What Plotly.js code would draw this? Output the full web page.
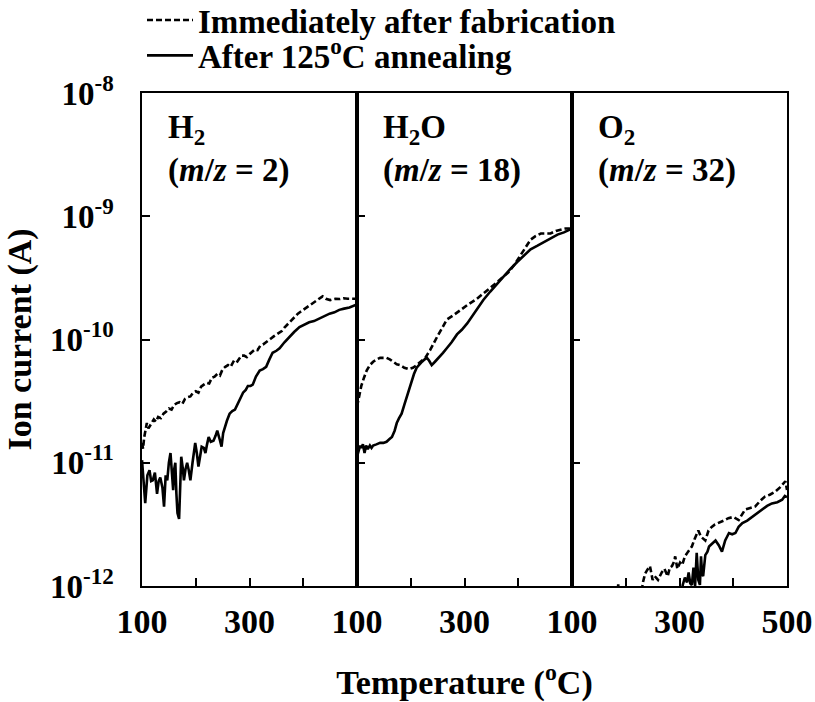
<!DOCTYPE html>
<html>
<head>
<meta charset="utf-8">
<script src="https://cdn.plot.ly/plotly-3.0.1.min.js"></script>
<style>
  html, body { margin: 0; padding: 0; background: #fff; }
  #chart { width: 815px; height: 702px; }
</style>
</head>
<body>
<div id="chart"></div>
<script>
// ---------- Data (temperature in °C, ion current in A) ----------
const seriesNames = ['Immediately after fabrication', 'After 125<sup>o</sup>C annealing'];
const panelLabels = [
  'H<sub>2</sub><br>(<i>m</i>/<i>z</i> = 2)',
  'H<sub>2</sub>O<br>(<i>m</i>/<i>z</i> = 18)',
  'O<sub>2</sub><br>(<i>m</i>/<i>z</i> = 32)'
];
const xLabelValsInner = [100, 300];
const xLabelValsLast = [100, 300, 500];
const xMinorVals = [200, 400];
const yTickVals = [1e-12, 1e-11, 1e-10, 1e-9, 1e-8];
const yTickText = ['10<sup>-12</sup>', '10<sup>-11</sup>', '10<sup>-10</sup>', '10<sup>-9</sup>', '10<sup>-8</sup>'];

// H2 (m/z = 2)
const h2FabT = [100,102,104,106,109,112,115,118,122,126,130,135,140,145,150,155,160,165,170,175,180,185,190,195,200,205,210,215,220,225,230,235,240,245,250,255,260,265,270,275,280,285,290,295,300,305,310,315,320,325,330,335,340,345,350,355,360,365,370,375,380,385,390,395,400,405,410,415,420,425,430,436,442,446,450,455,460,468,475,483,490,500];
const h2FabI = [1.45e-11,1.3e-11,1.6e-11,1.75e-11,2.1e-11,1.9e-11,2.0e-11,2.15e-11,2.25e-11,2.15e-11,2.35e-11,2.3e-11,2.5e-11,2.6e-11,2.75e-11,2.7e-11,2.95e-11,3.05e-11,3.1e-11,3.0e-11,3.3e-11,3.4e-11,3.45e-11,3.7e-11,3.8e-11,3.7e-11,4.15e-11,4.3e-11,4.45e-11,4.4e-11,4.9e-11,5.0e-11,5.25e-11,5.1e-11,5.75e-11,6.0e-11,6.2e-11,6.0e-11,6.6e-11,6.4e-11,6.9e-11,7.4e-11,7.4e-11,7.2e-11,7.6e-11,7.9e-11,8.3e-11,8.2e-11,8.9e-11,9.1e-11,9.5e-11,9.8e-11,1.02e-10,1.06e-10,1.1e-10,1.13e-10,1.17e-10,1.25e-10,1.32e-10,1.4e-10,1.48e-10,1.55e-10,1.62e-10,1.68e-10,1.74e-10,1.8e-10,1.86e-10,1.93e-10,2.0e-10,2.06e-10,2.14e-10,2.24e-10,2.14e-10,2.12e-10,2.09e-10,2.12e-10,2.14e-10,2.13e-10,2.16e-10,2.14e-10,2.14e-10,2.14e-10];
const h2AnnT = [100,103,106,110,114,117,120,124,128,131,134,138,141,144,147,150,153,156,158,160,162,164,166,169,171,173,176,178,181,184,187,190,194,199,202,205,208,211,215,218,221,224,228,233,237,240,244,248,251,254,258,263,268,273,280,288,293,297,302,306,312,319,325,331,337,343,350,356,365,374,383,393,402,411,420,430,440,449,458,467,476,486,497,500];
const h2AnnI = [1.05e-11,6.3e-12,4.7e-12,7.9e-12,8.7e-12,7.1e-12,7.2e-12,8.3e-12,5.6e-12,7.1e-12,7.6e-12,6.3e-12,4.4e-12,7.9e-12,7.2e-12,1.0e-11,1.2e-11,7.9e-12,6.0e-12,8.9e-12,1.0e-11,5.6e-12,3.9e-12,3.5e-12,7.9e-12,1.12e-11,8.9e-12,7.2e-12,8.9e-12,1.0e-11,8.7e-12,7.2e-12,1.0e-11,1.45e-11,1.2e-11,9.3e-12,1.12e-11,1.35e-11,1.32e-11,1.2e-11,1.41e-11,1.62e-11,1.48e-11,1.51e-11,1.66e-11,1.82e-11,1.58e-11,1.35e-11,1.74e-11,1.95e-11,2.19e-11,2.5e-11,2.63e-11,2.7e-11,3.16e-11,3.7e-11,3.9e-11,4.2e-11,4.2e-11,4.3e-11,5.0e-11,5.6e-11,5.75e-11,6.0e-11,6.9e-11,7.8e-11,8.1e-11,8.5e-11,9.5e-11,1.05e-10,1.15e-10,1.26e-10,1.32e-10,1.38e-10,1.41e-10,1.48e-10,1.55e-10,1.62e-10,1.66e-10,1.74e-10,1.78e-10,1.82e-10,1.9e-10,1.9e-10];

// H2O (m/z = 18)
const h2oFabT = [100,104,108,113,118,124,130,137,143,150,155,161,168,174,180,188,196,204,211,219,227,236,242,249,258,267,280,292,305,323,335,348,360,373,383,392,400,408,415,423,432,442,451,460,470,479,488,495,500];
const h2oFabI = [2.85e-11,3.5e-11,4.2e-11,4.9e-11,5.6e-11,6.2e-11,6.6e-11,6.9e-11,7.1e-11,7.1e-11,7.1e-11,6.9e-11,6.6e-11,6.3e-11,6.2e-11,5.9e-11,5.75e-11,5.9e-11,6.2e-11,6.6e-11,7.1e-11,8.2e-11,9.3e-11,1.05e-10,1.23e-10,1.45e-10,1.58e-10,1.74e-10,1.9e-10,2.14e-10,2.35e-10,2.6e-10,2.9e-10,3.25e-10,3.55e-10,4.0e-10,4.5e-10,5.1e-10,5.75e-10,6.45e-10,6.9e-10,7.25e-10,7.25e-10,7.25e-10,7.6e-10,7.75e-10,7.95e-10,7.95e-10,7.75e-10];
const h2oAnnT = [100,103,106,108,111,114,117,120,124,127,130,136,143,149,155,160,165,170,174,178,183,188,193,197,202,206,211,216,221,226,230,234,239,245,252,260,267,276,286,295,305,314,323,335,348,360,373,385,398,410,423,435,448,460,473,485,495,500];
const h2oAnnI = [1.12e-11,1.26e-11,1.38e-11,1.32e-11,1.41e-11,1.2e-11,1.38e-11,1.29e-11,1.38e-11,1.32e-11,1.38e-11,1.41e-11,1.45e-11,1.45e-11,1.48e-11,1.55e-11,1.62e-11,1.82e-11,2.1e-11,2.29e-11,2.5e-11,2.95e-11,3.45e-11,4.07e-11,4.7e-11,5.25e-11,5.9e-11,6.3e-11,6.6e-11,6.9e-11,7.1e-11,6.75e-11,6.2e-11,6.6e-11,7.1e-11,7.8e-11,8.5e-11,9.5e-11,1.1e-10,1.2e-10,1.35e-10,1.55e-10,1.78e-10,2.09e-10,2.45e-10,2.82e-10,3.25e-10,3.72e-10,4.25e-10,4.8e-10,5.4e-10,5.75e-10,6.15e-10,6.6e-10,7.1e-10,7.4e-10,7.75e-10,7.95e-10];

// O2 (m/z = 32)
const o2FabT = [180,186,190,228,232,236,240,245,250,254,260,267,272,278,282,286,290,292,296,301,305,310,316,323,328,335,340,348,354,360,366,373,382,391,400,410,416,422,430,441,450,459,468,478,487,494,497,500];
const o2FabI = [5e-13,1.03e-12,5e-13,8e-13,1.07e-12,1.26e-12,1.35e-12,1.45e-12,1.12e-12,1.2e-12,1.12e-12,1.29e-12,1.38e-12,1.2e-12,1.41e-12,1.45e-12,1.58e-12,1.74e-12,1.38e-12,1.55e-12,1.48e-12,1.74e-12,1.9e-12,2.09e-12,2.4e-12,2.82e-12,2.51e-12,2.34e-12,2.82e-12,3.02e-12,3.16e-12,3.24e-12,3.39e-12,3.55e-12,3.63e-12,3.43e-12,3.8e-12,4.17e-12,4.27e-12,4.42e-12,4.9e-12,5.31e-12,5.5e-12,5.82e-12,6.31e-12,6.92e-12,7.08e-12,6.0e-12];
const o2AnnT = [300,306,310,314,317,320,323,326,329,332,335,338,340,342,344,348,352,355,360,367,373,379,385,392,398,404,410,417,426,435,445,454,463,472,482,491,496,500];
const o2AnnI = [5e-13,1.02e-12,1.17e-12,1.07e-12,1.29e-12,1.05e-12,1.02e-12,1.41e-12,1.0e-12,1.86e-12,1.12e-12,1.02e-12,1.74e-12,1.26e-12,1.2e-12,1.78e-12,1.9e-12,2.09e-12,2.19e-12,2.34e-12,2.14e-12,1.9e-12,2.34e-12,2.69e-12,2.63e-12,2.69e-12,3.02e-12,3.24e-12,3.39e-12,3.63e-12,3.89e-12,4.17e-12,4.47e-12,4.68e-12,4.79e-12,5.01e-12,5.37e-12,5.25e-12];

// ---------- Styling ----------
const FONT = 'Liberation Serif';
const dashLine = { color: '#000', width: 2.6, dash: '6px,3px' };
const solidLine = { color: '#000', width: 2.6, dash: 'solid' };

const panels = [
  { fabT: h2FabT, fabI: h2FabI, annT: h2AnnT, annI: h2AnnI, xa: 'x', ya: 'y' },
  { fabT: h2oFabT, fabI: h2oFabI, annT: h2oAnnT, annI: h2oAnnI, xa: 'x2', ya: 'y2' },
  { fabT: o2FabT, fabI: o2FabI, annT: o2AnnT, annI: o2AnnI, xa: 'x3', ya: 'y3' }
];

const traces = [];
panels.forEach((p, i) => {
  traces.push({ type: 'scatter', mode: 'lines', x: p.fabT, y: p.fabI, xaxis: p.xa, yaxis: p.ya,
    line: dashLine, name: seriesNames[0], showlegend: i === 0, legend: 'legend', hoverinfo: 'skip' });
  traces.push({ type: 'scatter', mode: 'lines', x: p.annT, y: p.annI, xaxis: p.xa, yaxis: p.ya,
    line: solidLine, name: seriesNames[1], showlegend: i === 0, legend: 'legend2', hoverinfo: 'skip' });
});

function xAxis(domain, anchor, labelVals) {
  return {
    domain: domain, anchor: anchor, range: [100, 500],
    tickmode: 'array', tickvals: labelVals, ticktext: labelVals.map(String),
    ticks: 'inside', ticklen: 8, tickwidth: 2, tickcolor: '#000',
    minor: { tickmode: 'array', tickvals: xMinorVals, ticks: 'inside', ticklen: 8, tickwidth: 2, tickcolor: '#000', showgrid: false },
    showline: true, mirror: true, linewidth: 1.6, linecolor: '#000',
    showgrid: false, zeroline: false, ticklabelstandoff: 5,
    tickfont: { family: FONT, size: 34, color: '#000', weight: 'bold' },
    fixedrange: true
  };
}
function yAxis(anchor, showLabels) {
  return {
    type: 'log', range: [-12, -8], anchor: anchor,
    tickmode: 'array', tickvals: yTickVals, ticktext: yTickText,
    showticklabels: showLabels,
    ticks: 'inside', ticklen: 8, tickwidth: 2, tickcolor: '#000',
    showline: true, mirror: true, linewidth: 1.6, linecolor: '#000',
    showgrid: false, zeroline: false, ticklabelstandoff: 20,
    tickfont: { family: FONT, size: 33, color: '#000', weight: 'bold' },
    fixedrange: true
  };
}

const annotations = panelLabels.map((txt, i) => ({
  text: txt, xref: (i === 0 ? 'x' : 'x' + (i + 1)) + ' domain', yref: 'y domain',
  x: 0.11, y: 0.972, xanchor: 'left', yanchor: 'top', align: 'left', showarrow: false,
  font: { family: FONT, size: 33, color: '#000', weight: 'bold' }
}));

const legendBase = {
  xref: 'paper', yref: 'container', x: 0.0, xanchor: 'left', yanchor: 'middle',
  bgcolor: 'rgba(0,0,0,0)', borderwidth: 0, itemwidth: 46,
  font: { family: FONT, size: 33, color: '#000', weight: 'bold' }
};

const layout = {
  width: 815, height: 702,
  margin: { l: 142, r: 28, t: 93, b: 116 },
  paper_bgcolor: '#fff', plot_bgcolor: '#fff',
  font: { family: FONT, color: '#000' },
  showlegend: true,
  legend: Object.assign({}, legendBase, { y: 0.9715 }),
  legend2: Object.assign({}, legendBase, { y: 0.921 }),
  xaxis: xAxis([0, 1/3], 'y', xLabelValsInner),
  xaxis2: Object.assign(xAxis([1/3, 2/3], 'y2', xLabelValsInner), {
    title: { text: 'Temperature (<sup>o</sup>C)', standoff: 33,
      font: { family: FONT, size: 34, color: '#000', weight: 'bold' } }
  }),
  xaxis3: xAxis([2/3, 1], 'y3', xLabelValsLast),
  yaxis: Object.assign(yAxis('x', true), {
    title: { text: 'Ion current (A)', standoff: 8,
      font: { family: FONT, size: 34, color: '#000', weight: 'bold' } }
  }),
  yaxis2: yAxis('x2', false),
  yaxis3: yAxis('x3', false),
  annotations: annotations
};

Plotly.newPlot('chart', traces, layout, { displayModeBar: false, staticPlot: true });
</script>
</body>
</html>
